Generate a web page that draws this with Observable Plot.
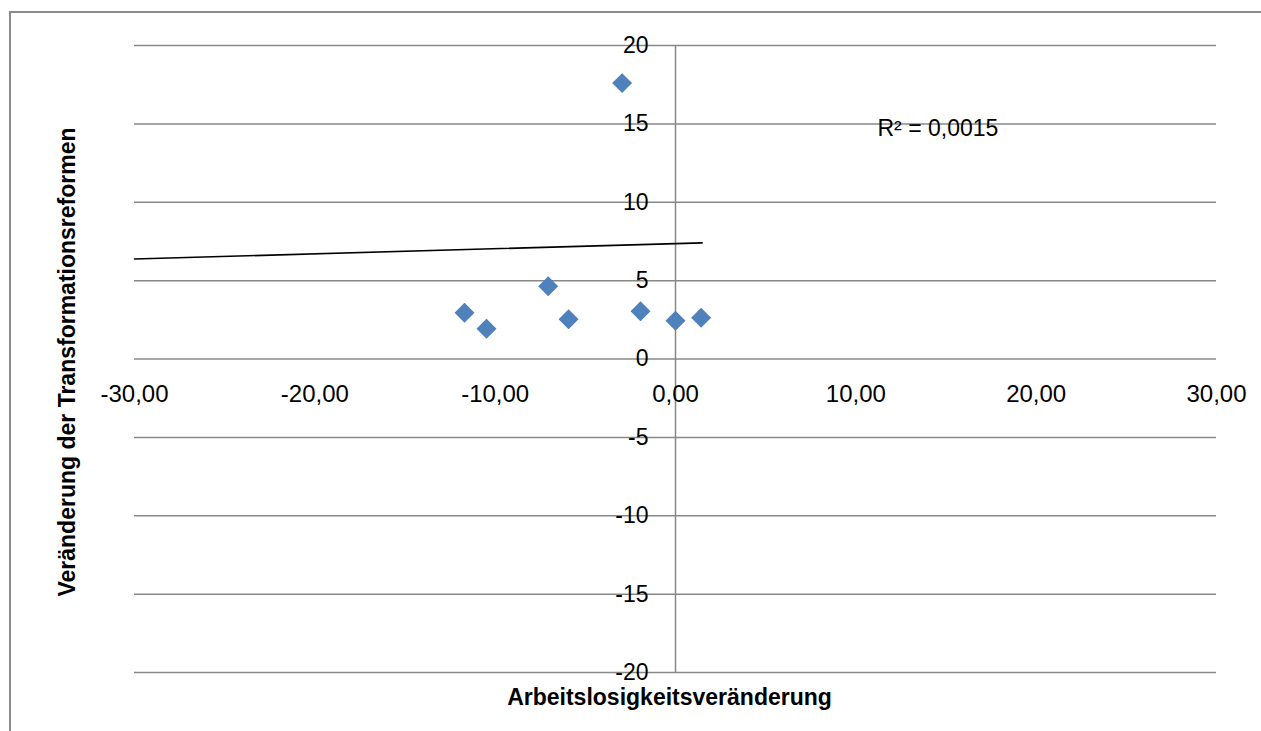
<!DOCTYPE html>
<html>
<head>
<meta charset="utf-8">
<script src="https://cdn.jsdelivr.net/npm/d3@7"></script>
<script src="https://cdn.jsdelivr.net/npm/@observablehq/plot@0.6"></script>
<style>
  html, body { margin: 0; padding: 0; background: #fff; overflow: hidden; }
  #wrap { position: relative; width: 1261px; height: 731px; }
  #border { position: absolute; left: 9px; top: 11px; width: 1400px; height: 900px; border: 2px solid #8c8c8c; box-sizing: border-box; }
  #chart { position: absolute; left: 0; top: 0; }
</style>
</head>
<body>
<div id="wrap"><div id="border"></div><div id="chart"></div></div>
<script>
// Data
const xValues = [-2.96, -11.70, -10.48, -7.06, -5.93, -1.94, 0.00, 1.42];
const yValues = [17.60, 2.95, 1.93, 4.64, 2.54, 3.05, 2.44, 2.63];
// Linear trendline endpoints (as drawn)
const trendX = [-30, 1.48];
const trendY = [6.38, 7.41];
const rSquaredLabel = "R² = 0,0015";
const rLabelPos = [11.2, 14.7];
// Axis ticks
const xTicks = [-30, -20, -10, 0, 10, 20, 30];
const xTickLabels = ["-30,00", "-20,00", "-10,00", "0,00", "10,00", "20,00", "30,00"];
const yTicks = [20, 15, 10, 5, 0, -5, -10, -15, -20];
const yTickLabels = ["20", "15", "10", "5", "0", "-5", "-10", "-15", "-20"];
const xTitle = "Arbeitslosigkeitsveränderung";
const yTitle = "Veränderung der Transformationsreformen";

const points = xValues.map((x, i) => ({x, y: yValues[i]}));
const trend = trendX.map((x, i) => ({x, y: trendY[i]}));
const xt = xTicks.map((v, i) => ({v, label: xTickLabels[i]}));
const yt = yTicks.map((v, i) => ({v, label: yTickLabels[i]}));

const font = "'Liberation Sans', Arial, sans-serif";
const grid = "#888888";

const chart = Plot.plot({
  width: 1261,
  height: 731,
  marginLeft: 134,
  marginRight: 45,
  marginTop: 45,
  marginBottom: 59,
  style: { fontFamily: font, fontSize: "23px", background: "transparent", color: "#000" },
  x: { domain: [-30, 30], axis: null },
  y: { domain: [-20, 20], axis: null },
  marks: [
    Plot.ruleY(yTicks, { stroke: grid, strokeWidth: 1.5 }),
    Plot.ruleX([0], { stroke: grid, strokeWidth: 1.5 }),
    Plot.line(trend, { x: "x", y: "y", stroke: "#000", strokeWidth: 1.6 }),
    Plot.dot(points, { x: "x", y: "y", symbol: "diamond2", r: 9, fill: "#4F81BD", stroke: "none" }),
    Plot.text(yt, { x: 0, y: "v", text: "label", textAnchor: "end", dx: -27, fontSize: 23, fill: "#000" }),
    Plot.text(xt, { x: "v", y: 0, text: "label", textAnchor: "middle", dy: 35, fontSize: 24, fill: "#000" }),
    Plot.text([rSquaredLabel], { x: rLabelPos[0], y: rLabelPos[1], text: d => d, textAnchor: "start", fontSize: 23, fill: "#000" }),
    Plot.text([xTitle], { frameAnchor: "bottom", text: d => d, textAnchor: "middle", lineAnchor: "middle", dy: 25, dx: -6, fontSize: 23, fontWeight: "bold", fill: "#000" }),
    Plot.text([yTitle], { frameAnchor: "left", text: d => d, textAnchor: "middle", lineAnchor: "middle", rotate: -90, dx: -67, dy: 3, fontSize: 23, fontWeight: "bold", fill: "#000" })
  ]
});
document.getElementById("chart").appendChild(chart);
</script>
</body>
</html>
